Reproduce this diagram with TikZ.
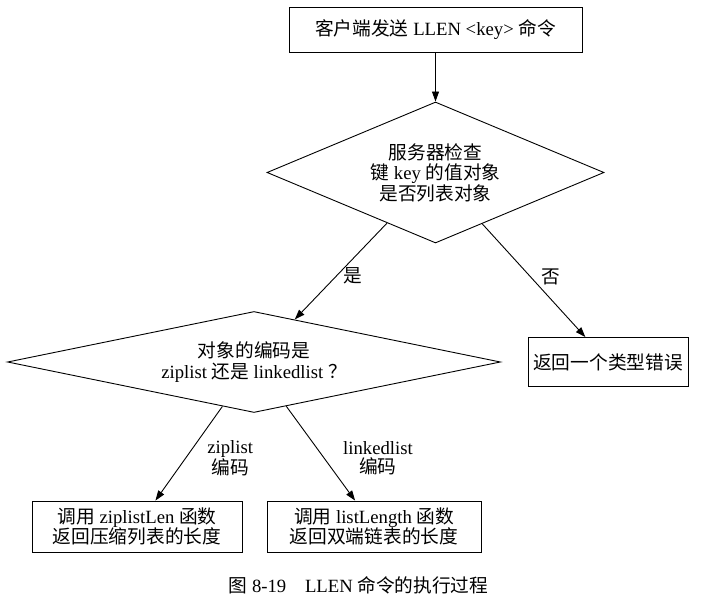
\documentclass[tikz,border=0pt]{standalone}
\usepackage{fontspec}
\setmainfont{Liberation Serif}
\newfontfamily\cjk{Noto Sans CJK SC}
\newcommand{\zh}[1]{{\cjk #1}}
\usetikzlibrary{arrows.meta,shapes.geometric}
\definecolor{Ink}{HTML}{000000}

\tikzset{
  box/.style={draw=Ink,rectangle,inner sep=0pt,align=center},
  choice/.style={draw=Ink,diamond,inner sep=0pt,align=center},
  flow/.style={draw=Ink,-{Triangle[length=10pt,width=7pt]}},
  tag/.style={align=center,inner sep=2pt,font=\fontsize{18.7}{19}\selectfont}
}

\begin{document}
\begin{tikzpicture}[x=1pt,y=-1pt,line width=0.9pt,font=\fontsize{18.7}{20.5}\selectfont]
  \useasboundingbox (0,0) rectangle (709,609);
  \node[box,minimum width=293pt,minimum height=45pt] (send) at (435.5,29.5)
    {\zh{客户端发送} LLEN <key> \zh{命令}};
  \node[choice,aspect=2.4,minimum width=337pt,minimum height=141pt] (islist) at (435.5,172.5)
    {\zh{服务器检查}\\\zh{键} key \zh{的值对象}\\\zh{是否列表对象}};
  \node[choice,aspect=4.9,minimum width=493pt,minimum height=101pt] (enc) at (254,362)
    {\zh{对象的编码是}\\ziplist \zh{还是} linkedlist \zh{？}};
  \node[box,minimum width=160pt,minimum height=49pt] (err) at (608,362)
    {\zh{返回一个类型错误}};
  \node[box,minimum width=210pt,minimum height=51pt] (zllen) at (137,526.5)
    {\zh{调用} ziplistLen \zh{函数}\\\zh{返回压缩列表的长度}};
  \node[box,minimum width=214pt,minimum height=51pt] (lllen) at (374,526.5)
    {\zh{调用} listLength \zh{函数}\\\zh{返回双端链表的长度}};
  \node (cap) at (358.5,585) {\zh{图} 8-19\zh{　}LLEN \zh{命令的执行过程}};

  \draw[flow] (send) -- (islist);
  \draw[flow] (islist) -- node[tag,right,xshift=0pt,yshift=-5pt] (yes) {\zh{是}} (enc);
  \draw[flow] (islist) -- node[tag,right,xshift=5pt,yshift=4pt] (no) {\zh{否}} (err);
  \draw[flow] (enc) -- node[tag,right,xshift=16pt,yshift=-5pt] (zl) {ziplist\\\zh{编码}} (zllen);
  \draw[flow] (enc) -- node[tag,right,xshift=20pt,yshift=-5pt] (ll) {linkedlist\\\zh{编码}} (lllen);
\end{tikzpicture}
\end{document}
